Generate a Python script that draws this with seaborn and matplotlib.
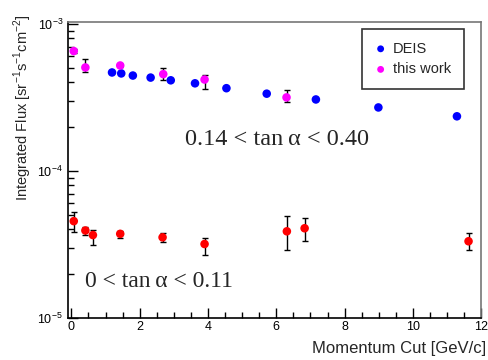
import numpy as np
import pandas as pd
import matplotlib
matplotlib.use("Agg")
import matplotlib.pyplot as plt
import seaborn as sns

# DEIS (0.14 < tan a < 0.40)
deis_p = [1.19, 1.46, 1.80, 2.32, 2.91, 3.62, 4.54, 5.72, 7.16, 8.99, 11.29]
deis_f = [4.67e-4, 4.60e-4, 4.45e-4, 4.31e-4, 4.13e-4, 3.94e-4, 3.65e-4, 3.35e-4, 3.06e-4, 2.70e-4, 2.35e-4]

# this work (0.14 < tan a < 0.40)
tw_p = [0.07, 0.41, 1.43, 2.69, 3.90, 6.30]
tw_f = [6.53e-4, 5.05e-4, 5.21e-4, 4.55e-4, 4.18e-4, 3.16e-4]
tw_lo = [6.30e-4, 4.71e-4, 5.05e-4, 4.18e-4, 3.63e-4, 2.92e-4]
tw_hi = [6.75e-4, 5.73e-4, 5.35e-4, 5.02e-4, 4.47e-4, 3.57e-4]

# this work (0 < tan a < 0.11)
low_p = [0.07, 0.41, 0.63, 1.43, 2.67, 3.90, 6.31, 6.83, 11.63]
low_f = [4.55e-5, 3.93e-5, 3.66e-5, 3.73e-5, 3.53e-5, 3.18e-5, 3.88e-5, 4.07e-5, 3.32e-5]
low_lo = [3.83e-5, 3.65e-5, 3.15e-5, 3.49e-5, 3.27e-5, 2.69e-5, 2.88e-5, 3.35e-5, 2.88e-5]
low_hi = [5.24e-5, 4.16e-5, 3.98e-5, 3.88e-5, 3.75e-5, 3.49e-5, 4.94e-5, 4.77e-5, 3.76e-5]

x_ticks = [0, 2, 4, 6, 8, 10, 12]

sns.set_style("ticks")
plt.rcParams['font.family'] = ['Liberation Sans', 'DejaVu Sans']
plt.rcParams['mathtext.fontset'] = 'custom'
plt.rcParams['mathtext.rm'] = 'Liberation Sans'

fig = plt.figure(figsize=(4.89, 3.6), dpi=100)
ax = fig.add_axes([0.139, 0.117, 0.845, 0.822])

df_deis = pd.DataFrame({"p": deis_p, "f": deis_f})
df_tw = pd.DataFrame({"p": tw_p, "f": tw_f, "lo": tw_lo, "hi": tw_hi})
df_low = pd.DataFrame({"p": low_p, "f": low_f, "lo": low_lo, "hi": low_hi})

ax.errorbar(df_tw["p"], df_tw["f"],
            yerr=[df_tw["f"] - df_tw["lo"], df_tw["hi"] - df_tw["f"]],
            fmt="none", ecolor="black", elinewidth=1, capsize=2, capthick=1, zorder=2)
ax.errorbar(df_low["p"], df_low["f"],
            yerr=[df_low["f"] - df_low["lo"], df_low["hi"] - df_low["f"]],
            fmt="none", ecolor="black", elinewidth=1, capsize=2, capthick=1, zorder=2)

sns.scatterplot(data=df_deis, x="p", y="f", ax=ax, color="#0000ff", s=38,
                edgecolor="none", label="DEIS", zorder=3)
sns.scatterplot(data=df_tw, x="p", y="f", ax=ax, color="#ff00ff", s=38,
                edgecolor="none", label="this work", zorder=3)
sns.scatterplot(data=df_low, x="p", y="f", ax=ax, color="#ff0000", s=38,
                edgecolor="none", zorder=3)

ax.set_yscale("log")
ax.set_ylim(1e-5, 1.03e-3)
ax.set_xlim(-0.1, 12.0)
ax.set_xticks(x_ticks)
ax.set_xticks(np.arange(0, 12.01, 0.5), minor=True)
ax.tick_params(axis="both", which="both", direction="in", top=False, right=False,
               labelsize=9, colors="black")
ax.tick_params(axis="both", which="major", length=7, width=1)
ax.tick_params(axis="both", which="minor", length=4, width=1)
ax.tick_params(axis="x", which="major", pad=2)

for side in ["left", "bottom"]:
    ax.spines[side].set_color("black")
    ax.spines[side].set_linewidth(1.2)
for side in ["top", "right"]:
    ax.spines[side].set_color("#777777")
    ax.spines[side].set_linewidth(1.2)

ax.set_xlabel("")
ax.set_ylabel("")
fig.text(0.994, 0.012, "Momentum Cut [GeV/c]", ha="right", va="bottom", fontsize=12)
fig.text(0.047, 0.70, r"Integrated Flux [sr$^{-1}$s$^{-1}$cm$^{-2}$]",
         rotation=90, ha="center", va="center", fontsize=10.5)

ax.text(6.02, 1.64e-4, "0.14 < tan\u2009\u03b1 < 0.40", ha="center", va="center",
        fontsize=17.5, family=["Liberation Serif", "DejaVu Serif"])
ax.text(2.57, 1.77e-5, "0 < tan\u2009\u03b1 < 0.11", ha="center", va="center",
        fontsize=17, family=["Liberation Serif", "DejaVu Serif"])

leg = ax.legend(loc="upper right", bbox_to_anchor=(0.975, 1.0), frameon=True,
                fancybox=False, edgecolor="black", fontsize=10.5, handletextpad=0.45,
                markerscale=0.8, borderpad=0.85, labelspacing=0.45, handlelength=0.8)
leg.get_frame().set_linewidth(1.2)

fig.savefig("out.png", dpi=100)
